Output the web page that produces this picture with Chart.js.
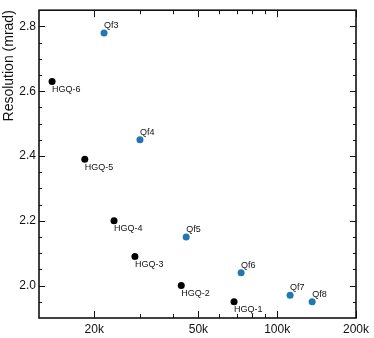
<!DOCTYPE html>
<html>
<head>
<meta charset="utf-8">
<script src="https://cdn.jsdelivr.net/npm/chart.js@4/dist/chart.umd.min.js"></script>
<style>
  html, body { margin: 0; padding: 0; background: #fff; }
  #wrap { width: 374px; height: 338px; }
</style>
</head>
<body>
<div id="wrap"><canvas id="c" width="374" height="338"></canvas></div>
<script>
// ---- data ----
const hgqNames = ["HGQ-1", "HGQ-2", "HGQ-3", "HGQ-4", "HGQ-5", "HGQ-6"];
const hgqX = [68400, 43000, 28600, 23800, 18400, 13800];
const hgqY = [1.95, 2.00, 2.09, 2.20, 2.39, 2.63];

const qfNames = ["Qf3", "Qf4", "Qf5", "Qf6", "Qf7", "Qf8"];
const qfX = [21800, 29900, 44900, 72800, 112000, 136000];
const qfY = [2.78, 2.45, 2.15, 2.04, 1.97, 1.95];

const xTickValues = [20000, 50000, 100000, 200000];
const xMinorValues = [30000, 40000, 60000, 70000, 80000, 90000];
const yTickValues = [2.0, 2.2, 2.4, 2.6, 2.8];
const yMinorStep = 0.05;
const yAxisTitle = "Resolution (mrad)";

const FONT = "'Liberation Sans', Arial, Helvetica, sans-serif";

const toPts = (xs, ys) => xs.map((x, i) => ({ x: x, y: ys[i] }));

const framePlugin = {
  id: 'frame',
  afterDraw(chart) {
    const { ctx, chartArea: a, scales } = chart;
    const xs = scales.x, ys = scales.y;
    ctx.save();
    ctx.strokeStyle = '#111';
    ctx.lineWidth = 1;
    const xt = (v, len) => {
      const p = Math.round(xs.getPixelForValue(v)) + 0.5;
      ctx.beginPath();
      ctx.moveTo(p, a.bottom); ctx.lineTo(p, a.bottom - len);
      ctx.moveTo(p, a.top); ctx.lineTo(p, a.top + len);
      ctx.stroke();
    };
    xTickValues.forEach(v => xt(v, 7));
    xMinorValues.forEach(v => xt(v, 4));
    const yt = (v, len) => {
      const p = Math.round(ys.getPixelForValue(v)) + 0.5;
      ctx.beginPath();
      ctx.moveTo(a.left, p); ctx.lineTo(a.left + len, p);
      ctx.moveTo(a.right, p); ctx.lineTo(a.right - len, p);
      ctx.stroke();
    };
    for (let v = 1.95; v < ys.max; v += yMinorStep) {
      const r = Math.round(v * 100) / 100;
      const major = yTickValues.some(t => Math.abs(t - r) < 1e-6);
      yt(r, major ? 6 : 3);
    }
    ctx.lineWidth = 1.6;
    ctx.strokeStyle = '#111';
    ctx.strokeRect(a.left, a.top, a.right - a.left, a.bottom - a.top);
    ctx.restore();
  },
  afterDatasetsDraw(chart) {
    const { ctx, scales } = chart;
    ctx.save();
    ctx.font = "9px " + FONT;
    ctx.fillStyle = '#111';
    ctx.textAlign = 'left';
    ctx.textBaseline = 'alphabetic';
    hgqNames.forEach((n, i) => {
      const px = scales.x.getPixelForValue(hgqX[i]);
      const py = scales.y.getPixelForValue(hgqY[i]);
      ctx.fillText(n, px, py + 10.5);
    });
    qfNames.forEach((n, i) => {
      const px = scales.x.getPixelForValue(qfX[i]);
      const py = scales.y.getPixelForValue(qfY[i]);
      ctx.fillText(n, px, py - 5);
    });
    ctx.restore();
  }
};

new Chart(document.getElementById('c'), {
  type: 'scatter',
  data: {
    datasets: [
      { label: 'HGQ', data: toPts(hgqX, hgqY), backgroundColor: '#000000', borderWidth: 0, pointRadius: 3.5, pointHoverRadius: 3.5 },
      { label: 'Qf', data: toPts(qfX, qfY), backgroundColor: '#1f77b4', borderWidth: 0, pointRadius: 3.5, pointHoverRadius: 3.5 }
    ]
  },
  options: {
    responsive: false,
    animation: false,
    devicePixelRatio: 1,
    layout: { padding: { top: 4, right: 18, left: 0, bottom: 0 } },
    plugins: { legend: { display: false }, tooltip: { enabled: false } },
    scales: {
      x: {
        type: 'logarithmic',
        min: 12300,
        max: 200000,
        grid: { display: false, drawTicks: false, tickLength: 0 },
        border: { display: false },
        afterBuildTicks: s => { s.ticks = xTickValues.map(v => ({ value: v })); },
        afterFit: s => { s.height = 20; },
        ticks: {
          autoSkip: false,
          maxRotation: 0,
          padding: 4,
          color: '#111',
          font: { family: FONT, size: 12 },
          callback: v => (v / 1000) + 'k'
        }
      },
      y: {
        min: 1.9,
        max: 2.85,
        grid: { display: false, drawTicks: false, tickLength: 0 },
        border: { display: false },
        afterBuildTicks: s => { s.ticks = yTickValues.map(v => ({ value: v })); },
        afterFit: s => { s.width = 39; },
        title: {
          display: true,
          text: yAxisTitle,
          align: 'end',
          color: '#111',
          font: { family: FONT, size: 14 },
          padding: { top: 1, bottom: 0 }
        },
        ticks: {
          padding: 3,
          color: '#111',
          font: { family: FONT, size: 12 },
          callback: v => Number(v).toFixed(1)
        }
      }
    }
  },
  plugins: [framePlugin]
});
</script>
</body>
</html>
